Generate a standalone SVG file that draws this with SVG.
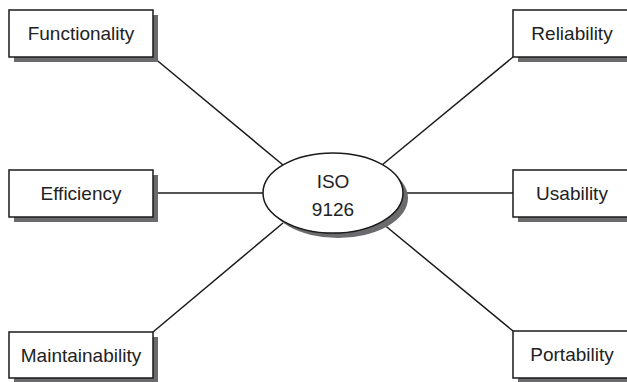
<svg xmlns="http://www.w3.org/2000/svg" width="627" height="382" viewBox="0 0 627 382">
<style>
.box{fill:#fff;stroke:#1a1a1a;stroke-width:1.5}
.sh{fill:#6b6b6e}
.lbl{font-family:"Liberation Sans",Arial,sans-serif;font-size:19px;fill:#222;text-anchor:middle}
.ln{stroke:#1a1a1a;stroke-width:1.5;fill:none}
</style>
<rect width="627" height="382" fill="#fff"/>
<g id="connectors">
<line class="ln" x1="153" y1="57" x2="283" y2="165"/>
<line class="ln" x1="513" y1="57" x2="382" y2="165"/>
<line class="ln" x1="153" y1="193" x2="263" y2="193"/>
<line class="ln" x1="403" y1="193" x2="513" y2="193"/>
<line class="ln" x1="153" y1="332" x2="283" y2="223"/>
<line class="ln" x1="513" y1="331" x2="382" y2="223"/>
</g>
<g id="iso">
<ellipse class="sh" cx="338" cy="198" rx="70" ry="40"/>
<ellipse class="box" cx="333" cy="193" rx="70" ry="40"/>
<text class="lbl" x="333" y="188">ISO</text>
<text class="lbl" x="333" y="216">9126</text>
</g>
<g id="functionality">
<rect class="sh" x="14" y="15" width="144" height="47"/>
<rect class="box" x="9" y="10" width="144" height="47"/>
<text class="lbl" x="81" y="40">Functionality</text>
</g>
<g id="efficiency">
<rect class="sh" x="14" y="175" width="144" height="47"/>
<rect class="box" x="9" y="170" width="144" height="47"/>
<text class="lbl" x="81" y="200">Efficiency</text>
</g>
<g id="maintainability">
<rect class="sh" x="14" y="337" width="144" height="47"/>
<rect class="box" x="9" y="332" width="144" height="46"/>
<text class="lbl" x="81" y="362">Maintainability</text>
</g>
<g id="reliability">
<rect class="sh" x="518" y="15" width="120" height="47"/>
<rect class="box" x="513" y="10" width="120" height="47"/>
<text class="lbl" x="572" y="40">Reliability</text>
</g>
<g id="usability">
<rect class="sh" x="518" y="175" width="120" height="47"/>
<rect class="box" x="513" y="170" width="120" height="47"/>
<text class="lbl" x="572" y="200">Usability</text>
</g>
<g id="portability">
<rect class="sh" x="518" y="336" width="120" height="47"/>
<rect class="box" x="513" y="331" width="120" height="47"/>
<text class="lbl" x="572" y="361">Portability</text>
</g>
</svg>
